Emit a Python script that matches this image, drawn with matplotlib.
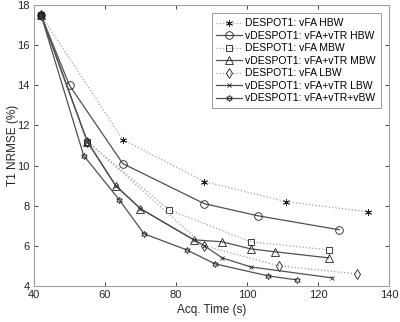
import numpy as np
import matplotlib.pyplot as plt

plt.rcParams['font.family'] = ['Liberation Sans', 'DejaVu Sans']

# acquisition time (s) and T1 NRMSE (%) per protocol
hbw_vfa_t = [42, 65, 88, 111, 134]
hbw_vfa_e = [17.5, 11.3, 9.2, 8.2, 7.7]

hbw_vtr_t = [42, 50, 65, 88, 103, 126]
hbw_vtr_e = [17.5, 14.0, 10.1, 8.1, 7.5, 6.8]

mbw_vfa_t = [42, 55, 78, 101, 123]
mbw_vfa_e = [17.5, 11.2, 7.8, 6.2, 5.8]

mbw_vtr_t = [42, 55, 63, 70, 85, 93, 101, 108, 123]
mbw_vtr_e = [17.5, 11.2, 9.0, 7.85, 6.3, 6.2, 5.85, 5.7, 5.4]

lbw_vfa_t = [42, 55, 88, 109, 131]
lbw_vfa_e = [17.5, 11.2, 6.0, 5.0, 4.6]

lbw_vtr_t = [42, 55, 63, 70, 85, 88, 93, 101, 124]
lbw_vtr_e = [17.5, 11.2, 9.0, 7.85, 6.3, 6.0, 5.4, 4.95, 4.4]

vbw_t = [42, 54, 64, 71, 83, 91, 106, 114]
vbw_e = [17.5, 10.5, 8.3, 6.6, 5.8, 5.1, 4.5, 4.3]

labels = ['DESPOT1: vFA HBW', 'vDESPOT1: vFA+vTR HBW', 'DESPOT1: vFA MBW',
          'vDESPOT1: vFA+vTR MBW', 'DESPOT1: vFA LBW', 'vDESPOT1: vFA+vTR LBW',
          'vDESPOT1: vFA+vTR+vBW']

fig = plt.figure(figsize=(4, 3.22), dpi=100)
ax = fig.add_axes([0.085, 0.112, 0.8875, 0.872])

dot = dict(color='#a0a0a0', ls=':', lw=0.9, mec='#202020', mfc='none', mew=0.6)
sol = dict(color='#505050', ls='-', lw=0.9, mec='#202020', mfc='none', mew=0.6)

ax.plot(hbw_vfa_t, hbw_vfa_e, marker=(6, 2, 0), ms=5, label=labels[0], **dot)
ax.plot(hbw_vtr_t, hbw_vtr_e, marker='o', ms=5.5, label=labels[1], **sol)
ax.plot(mbw_vfa_t, mbw_vfa_e, marker='s', ms=4.5, label=labels[2], **dot)
ax.plot(mbw_vtr_t, mbw_vtr_e, marker='^', ms=5.5, label=labels[3], **sol)
ax.plot(lbw_vfa_t, lbw_vfa_e, marker='d', ms=5.5, label=labels[4], **dot)
ax.plot(lbw_vtr_t, lbw_vtr_e, marker='x', ms=3.5, label=labels[5], **sol)
ax.plot(vbw_t, vbw_e, marker=(6, 1, 0), ms=4.5, label=labels[6], **sol)

ax.set_xlim(40, 140)
ax.set_ylim(4, 18)
ax.set_xticks(np.arange(40, 141, 20))
ax.set_yticks(np.arange(4, 19, 2))
ax.tick_params(direction='in', length=3, width=0.6, colors='#262626',
               labelsize=8, top=True, right=True, pad=3)
for s in ax.spines.values():
    s.set_color('#a0a0a0')
    s.set_linewidth(0.8)

ax.set_xlabel('Acq. Time (s)', fontsize=8.5, color='#262626', labelpad=3)
ax.set_ylabel('T1 NRMSE (%)', fontsize=8.5, color='#262626', labelpad=-1)

leg = ax.legend(loc='upper right', fontsize=7.5, handlelength=2.5, frameon=True,
                fancybox=False, borderpad=0.45, labelspacing=0.24,
                handletextpad=0.3, borderaxespad=0.8)
leg.get_frame().set_edgecolor('#808080')
leg.get_frame().set_linewidth(0.7)

fig.savefig('out.png', dpi=100)
